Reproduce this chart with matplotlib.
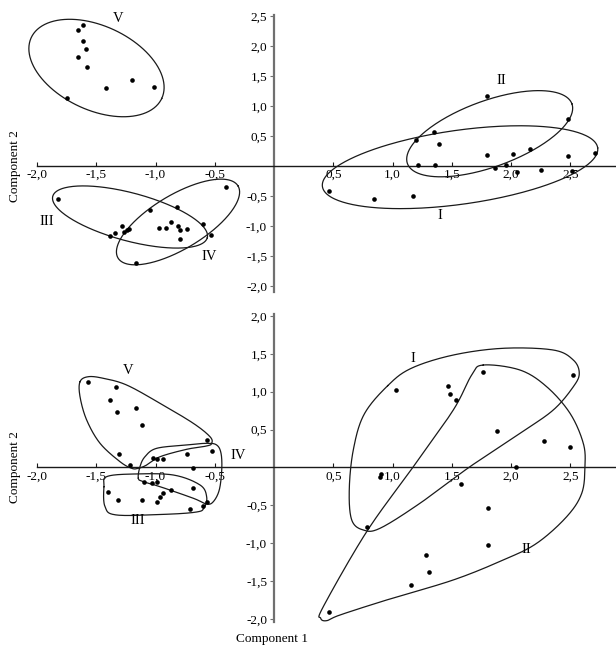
import numpy as np
import matplotlib
matplotlib.use("Agg")
import matplotlib.pyplot as plt
from matplotlib.ticker import FixedLocator, FixedFormatter
import matplotlib.transforms as mtransforms

plt.rcParams['font.family'] = ['Liberation Serif', 'DejaVu Serif']

# ---------------- data: top panel ----------------
top_x = [-1.61, -1.654, -1.61, -1.584, -1.657, -1.58, -1.196, -1.418, -1.015, -1.747,
         -1.825, -1.049, -0.821, -0.402, -1.285, -1.342, -1.384, -1.27, -1.243, -1.221,
         -0.97, -0.911, -0.869, -0.813, -0.793, -0.737, -0.791, -0.602, -0.532, -1.162,
         1.797, 2.478, 1.347, 1.196, 1.395, 1.8, 2.02, 2.16, 2.484, 2.706,
         1.215, 1.361, 1.862, 1.96, 2.05, 2.253, 2.517, 0.464, 0.847, 1.173]
top_y = [2.355, 2.26, 2.09, 1.95, 1.82, 1.65, 1.43, 1.305, 1.317, 1.14,
         -0.55, -0.728, -0.683, -0.345, -0.995, -1.117, -1.167, -1.105, -1.067, -1.045,
         -1.028, -1.038, -0.928, -1.0, -1.061, -1.045, -1.217, -0.967, -1.145, -1.617,
         1.167, 0.783, 0.561, 0.428, 0.367, 0.183, 0.2, 0.289, 0.172, 0.217,
         0.022, 0.017, -0.028, 0.011, -0.094, -0.072, -0.083, -0.422, -0.556, -0.506]

# group ellipses (top): name, centre x, centre y, semi-axes (px), angle (deg)
top_groups = ['V', 'III', 'IV', 'I', 'II']
top_cx = [-1.498, -1.215, -0.81, 1.57, 1.82]
top_cy = [1.633, -0.85, -0.933, -0.02, 0.538]
top_a = [72, 80, 70, 139, 87.5]
top_b = [42, 24, 27, 37, 33]
top_ang = [-25, -15, 31, 8, 20]
top_lab_x = [-1.314, -1.92, -0.546, 1.40, 1.92]
top_lab_y = [2.46, -0.93, -1.51, -0.817, 1.417]

# ---------------- data: bottom panel ----------------
bot_x = [-1.567, -1.333, -1.381, -1.322, -1.167, -1.111, -0.563, -0.523, -1.311, -1.215,
         -1.018, -0.985, -0.939, -0.734, -0.686, -1.093, -1.032, -0.99, -0.873, -0.686,
         -0.939, -0.959, -1.398, -1.319, -1.111, -0.985, -0.706, -0.602, -0.563,
         1.027, 1.471, 1.482, 1.536, 1.767, 2.526, 1.879, 2.276, 2.498, 2.045,
         0.900, 0.897, 1.581, 1.803, 0.782, 1.803, 1.280, 1.308, 1.156, 0.464]
bot_y = [1.124, 1.062, 0.886, 0.728, 0.781, 0.561, 0.367, 0.222, 0.174, 0.029,
         0.129, 0.116, 0.108, 0.174, -0.003, -0.187, -0.205, -0.191, -0.293, -0.266,
         -0.332, -0.393, -0.327, -0.433, -0.429, -0.455, -0.548, -0.508, -0.459,
         1.026, 1.075, 0.970, 0.895, 1.264, 1.216, 0.477, 0.345, 0.266, 0.011,
         -0.082, -0.125, -0.218, -0.534, -0.789, -1.022, -1.159, -1.383, -1.550, -1.902]

# group outlines (bottom), closed curves through these points
bot_V_ox = [-1.637, -1.567, -1.441, -1.243, -0.962, -0.681, -0.540, -0.526, -0.568, -0.737,
            -0.962, -1.074, -1.145, -1.201, -1.300, -1.468, -1.581, -1.637]
bot_V_oy = [1.132, 1.198, 1.177, 1.088, 0.847, 0.583, 0.406, 0.319, 0.284, 0.240,
            0.142, 0.033, -0.011, -0.011, 0.077, 0.319, 0.627, 0.934]
bot_IV_ox = [-1.145, -1.131, -1.089, -0.990, -0.737, -0.568, -0.484, -0.447, -0.441, -0.462,
             -0.512, -0.568, -0.681, -0.962, -1.103]
bot_IV_oy = [-0.142, 0.011, 0.142, 0.253, 0.297, 0.319, 0.297, 0.187, -0.033, -0.297,
             -0.451, -0.482, -0.406, -0.253, -0.187]
bot_III_ox = [-1.435, -1.412, -1.187, -0.850, -0.624, -0.568, -0.591, -0.652, -0.905, -1.327, -1.426]
bot_III_oy = [-0.253, -0.121, -0.086, -0.099, -0.231, -0.389, -0.534, -0.587, -0.617, -0.627, -0.517]
bot_I_ox = [0.960, 1.160, 1.513, 1.935, 2.357, 2.526, 2.576, 2.526, 2.357, 2.076, 1.654,
            1.232, 0.895, 0.754, 0.656, 0.635, 0.669, 0.760]
bot_I_oy = [1.080, 1.310, 1.484, 1.573, 1.550, 1.418, 1.243, 1.066, 0.759, 0.451, 0.011,
            -0.472, -0.802, -0.825, -0.693, -0.297, 0.231, 0.700]
bot_II_ox = [1.766, 2.076, 2.301, 2.498, 2.610, 2.624, 2.597, 2.470, 2.217, 1.935, 1.513,
             0.951, 0.557, 0.445, 0.394, 0.416, 0.782, 1.176, 1.513, 1.668]
bot_II_oy = [1.352, 1.286, 1.066, 0.715, 0.319, 0.011, -0.340, -0.649, -1.000, -1.220, -1.484,
             -1.748, -1.946, -2.021, -1.989, -1.836, -0.847, 0.011, 0.759, 1.220]
bot_labels = ['V', 'IV', 'III', 'I', 'II']
bot_lab_x = [-1.229, -0.301, -1.153, 1.176, 2.127]
bot_lab_y = [1.277, 0.152, -0.693, 1.44, -1.088]

x_ticks = [-2.0, -1.5, -1.0, -0.5, 0.5, 1.0, 1.5, 2.0, 2.5]
top_y_ticks = [-2.0, -1.5, -1.0, -0.5, 0.5, 1.0, 1.5, 2.0, 2.5]
bot_y_ticks = [-2.0, -1.5, -1.0, -0.5, 0.5, 1.0, 1.5, 2.0]


def fmt(v):
    return ('%.1f' % v).replace('.', ',')


W, H = 616, 646
fig = plt.figure(figsize=(W / 100, H / 100), dpi=100)

ax1 = fig.add_axes([37 / W, (H - 292) / H, (W - 37) / W, (292 - 14.8) / H])
ax2 = fig.add_axes([37 / W, (H - 622.1) / H, (W - 37) / W, (622.1 - 314.4) / H])
ax1.set_xlim(-2.0, 2.886)
ax1.set_ylim(-2.1, 2.52)
ax2.set_xlim(-2.0, 2.886)
ax2.set_ylim(-2.04, 2.02)


def style(ax, yt):
    ax.patch.set_visible(False)
    for s in ['top', 'right']:
        ax.spines[s].set_visible(False)
    ax.spines['left'].set_position(('data', 0))
    ax.spines['bottom'].set_position(('data', 0))
    ax.spines['left'].set_color('#707070')
    ax.spines['left'].set_linewidth(1.6)
    ax.spines['bottom'].set_color('#1a1a1a')
    ax.spines['bottom'].set_linewidth(1.0)
    ax.xaxis.set_major_locator(FixedLocator(x_ticks))
    ax.xaxis.set_major_formatter(FixedFormatter([fmt(v) for v in x_ticks]))
    ax.yaxis.set_major_locator(FixedLocator(yt))
    ax.yaxis.set_major_formatter(FixedFormatter([fmt(v) for v in yt]))
    ax.tick_params(axis='x', direction='in', length=3, width=0.8, pad=2,
                   labelsize=9.5, color='#1a1a1a')
    ax.tick_params(axis='y', direction='out', length=3, width=0.8, pad=2,
                   labelsize=9.5, color='#707070')
    tr = mtransforms.blended_transform_factory(ax.transAxes, ax.transData)
    ax.text(-0.038, 0, 'Component 2', rotation=90, ha='center', va='center',
            fontsize=9.5, transform=tr)


style(ax1, top_y_ticks)
style(ax2, bot_y_ticks)

# scatter points
ax1.scatter(top_x, top_y, s=11, color='black', zorder=5, clip_on=False, linewidths=0)
ax2.scatter(bot_x, bot_y, s=11, color='black', zorder=5, clip_on=False, linewidths=0)

# top ellipses
fig.canvas.draw()
p0 = ax1.transData.transform((0, 0))
px1 = ax1.transData.transform((1, 1))
sx, sy = px1[0] - p0[0], px1[1] - p0[1]
t = np.linspace(0, 2 * np.pi, 300)
for cx, cy, a, b, ang in zip(top_cx, top_cy, top_a, top_b, top_ang):
    th = np.deg2rad(ang)
    dx = a * np.cos(t) * np.cos(th) - b * np.sin(t) * np.sin(th)
    dy = a * np.cos(t) * np.sin(th) + b * np.sin(t) * np.cos(th)
    ax1.plot(cx + dx / sx, cy + dy / sy, color='#1a1a1a', lw=0.9, clip_on=False, zorder=3)
for lab, lx, ly in zip(top_groups, top_lab_x, top_lab_y):
    ax1.text(lx, ly, lab, ha='center', va='center', fontsize=10.5)


# bottom outlines: closed Catmull-Rom curves
def closed_curve(xs, ys, n=30):
    P = np.column_stack([xs, ys])
    m = len(P)
    out = []
    for i in range(m):
        p0_, p1_, p2_, p3_ = P[(i - 1) % m], P[i], P[(i + 1) % m], P[(i + 2) % m]
        u = np.linspace(0, 1, n, endpoint=False)[:, None]
        seg = 0.5 * ((2 * p1_) + (-p0_ + p2_) * u + (2 * p0_ - 5 * p1_ + 4 * p2_ - p3_) * u ** 2
                     + (-p0_ + 3 * p1_ - 3 * p2_ + p3_) * u ** 3)
        out.append(seg)
    out = np.vstack(out + [out[0][:1]])
    return out[:, 0], out[:, 1]


for xs, ys in [(bot_V_ox, bot_V_oy), (bot_IV_ox, bot_IV_oy), (bot_III_ox, bot_III_oy),
               (bot_I_ox, bot_I_oy), (bot_II_ox, bot_II_oy)]:
    cx_, cy_ = closed_curve(xs, ys)
    ax2.plot(cx_, cy_, color='#1a1a1a', lw=0.9, clip_on=False, zorder=3)
for lab, lx, ly in zip(bot_labels, bot_lab_x, bot_lab_y):
    ax2.text(lx, ly, lab, ha='center', va='center', fontsize=10.5)

fig.text(272 / W, 1 - 639 / H, 'Component 1', ha='center', va='center', fontsize=9.5)

fig.savefig('out.png', dpi=100)
